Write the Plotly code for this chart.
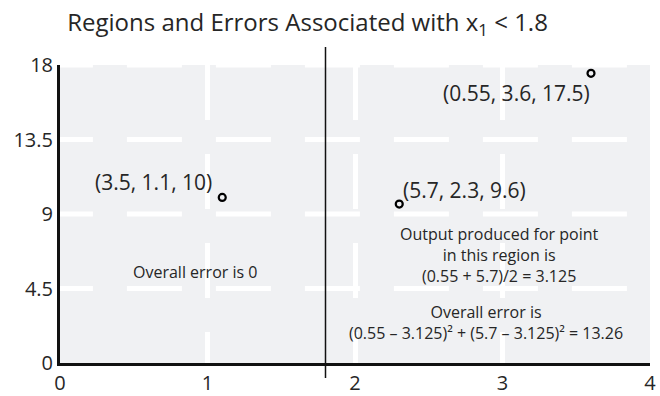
import plotly.graph_objects as go

# Three training points: target value, x1 position, y position
targets = [3.5, 5.7, 0.55]
x1_vals = [1.1, 2.3, 3.6]
y_vals = [10, 9.6, 17.5]

split_x = 1.8
x_ticks = [0, 1, 2, 3, 4]
y_ticks = [0, 4.5, 9, 13.5, 18]
y_tick_text = ["0", "4.5", "9", "13.5", "18"]

FONT = "Open Sans"
TXT = "#262626"
GRID_DASH = "55px,34px"

labels = [f"({t}, {a}, {b})" for t, a, b in zip(targets, x1_vals, y_vals)]

fig = go.Figure()
fig.add_trace(go.Scatter(
    x=x1_vals, y=y_vals, mode="markers",
    marker=dict(symbol="circle-open", size=7, color="black", line=dict(width=2.2)),
    showlegend=False, hoverinfo="skip",
))

# horizontal dashed grid, started a little left of x=0 so the dash phase lands as drawn
for yv in y_ticks[1:]:
    fig.add_shape(type="line", xref="x", yref="y", x0=-0.15, x1=4, y0=yv, y1=yv,
                  layer="below", line=dict(color="white", width=5, dash=GRID_DASH))

# point labels
label_font = dict(size=21, color=TXT, family=FONT)
fig.add_annotation(x=x1_vals[0], y=y_vals[0], text=labels[0], showarrow=False,
                   xanchor="right", yanchor="middle", xshift=-8, yshift=15, font=label_font)
fig.add_annotation(x=x1_vals[1], y=y_vals[1], text=labels[1], showarrow=False,
                   xanchor="left", yanchor="middle", xshift=2, yshift=14, font=label_font)
fig.add_annotation(x=x1_vals[2], y=y_vals[2], text=labels[2], showarrow=False,
                   xanchor="right", yanchor="middle", xshift=1, yshift=-20, font=label_font)

# region notes
note_font = dict(size=16, color=TXT, family=FONT)
notes = [
    (0.915, 5.49, "Overall error is 0"),
    (2.983, 6.55, "Output produced for point<br>in this region is<br>(0.55 + 5.7)/2 = 3.125"),
    (2.89, 2.42, "Overall error is<br>(0.55 – 3.125)² + (5.7 – 3.125)² = 13.26"),
]
for nx, ny, nt in notes:
    fig.add_annotation(x=nx, y=ny, text=nt, showarrow=False,
                       xanchor="center", yanchor="middle", font=note_font)

# split line x1 = 1.8
fig.add_shape(type="line", x0=split_x, x1=split_x, xref="x", y0=-0.05, y1=1.06, yref="paper",
              line=dict(color="#111", width=1.5))

fig.update_layout(
    width=660, height=396,
    margin=dict(l=60, r=10, t=65, b=33, autoexpand=False),
    paper_bgcolor="white",
    plot_bgcolor="#f0f1f3",
    title=dict(text="Regions and Errors Associated with x<sub>1</sub> < 1.8",
               x=0.466, xanchor="center", y=0.944, yanchor="middle",
               font=dict(size=24, color=TXT, family=FONT)),
    xaxis=dict(range=[0, 4], tickvals=x_ticks, ticktext=[str(v) for v in x_ticks],
               showgrid=True, gridcolor="white", gridwidth=5, griddash=GRID_DASH,
               showline=True, linecolor="#111", linewidth=3, zeroline=False,
               ticks="", ticklabelstandoff=0, automargin=False,
               tickfont=dict(size=20, color=TXT, family=FONT)),
    yaxis=dict(range=[0, 18], tickvals=y_ticks, ticktext=y_tick_text,
               showgrid=False,
               showline=True, linecolor="#111", linewidth=3, zeroline=False,
               ticks="", ticklabelstandoff=0, automargin=False,
               tickfont=dict(size=20, color=TXT, family=FONT)),
)

fig.write_html("out.html")
